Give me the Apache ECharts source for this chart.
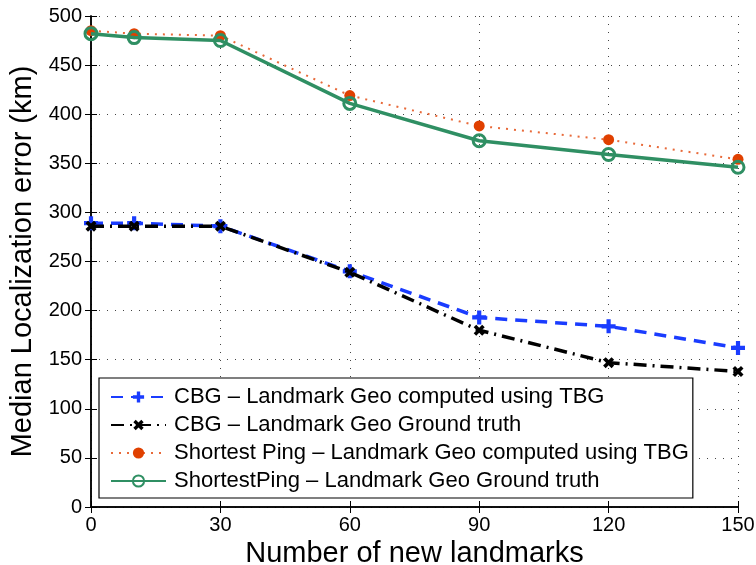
<!DOCTYPE html>
<html>
<head>
<meta charset="utf-8">
<script src="https://cdn.jsdelivr.net/npm/echarts@6/dist/echarts.min.js"></script>
<style>
html,body{margin:0;padding:0;background:#fff;}
#chart{width:756px;height:565px;}
</style>
</head>
<body>
<div id="chart"></div>
<script>
// x positions (number of new landmarks)
var landmarks = [0, 10, 30, 60, 90, 120, 150];
var cbgTbg = [289, 289, 286, 240, 193, 184, 162];
var cbgTruth = [286, 286, 286, 239, 180, 147, 138];
var spTbg = [485, 482, 480, 419, 388, 374, 354];
var spTruth = [482, 478, 475, 411, 373, 359, 346];
var names = [
  'CBG \u2013 Landmark Geo computed using TBG',
  'CBG \u2013 Landmark Geo Ground truth',
  'Shortest Ping \u2013 Landmark Geo computed using TBG',
  'ShortestPing \u2013 Landmark Geo Ground truth'
];

function pairs(ys){
  var out = [];
  for (var i = 0; i < landmarks.length; i++) out.push([landmarks[i], ys[i]]);
  return out;
}

var plusPath = 'path://M3.5,0H6.5V3.5H10V6.5H6.5V10H3.5V6.5H0V3.5H3.5Z';
var font = 'Liberation Sans, Arial, Helvetica, sans-serif';

var chart = echarts.init(document.getElementById('chart'));
var gridLine = {show: true, lineStyle: {color: '#444', type: [1, 7], width: 1}};
chart.setOption({
  animation: false,
  grid: {left: 91, right: 18, top: 16, bottom: 58, containLabel: false, outerBoundsMode: 'none'},
  legend: {
    orient: 'vertical',
    left: 99, top: 378,
    padding: [8, 4, 6, 11],
    itemGap: 6,
    itemWidth: 55, itemHeight: 14,
    backgroundColor: '#fff',
    borderColor: '#000', borderWidth: 1.2,
    borderRadius: 0,
    textStyle: {fontFamily: font, fontSize: 22, color: '#000', padding: [0, 0, 0, 3]},
    data: names
  },
  xAxis: [{
    type: 'value', min: 0, max: 150, interval: 30,
    name: 'Number of new landmarks', nameLocation: 'middle', nameGap: 29,
    nameTextStyle: {fontFamily: font, fontSize: 29, color: '#000', verticalAlign: 'top'},
    axisLine: {lineStyle: {color: '#000', width: 1.5}},
    axisTick: {inside: true, length: 6, lineStyle: {color: '#000'}},
    axisLabel: {fontFamily: font, fontSize: 20, color: '#000', margin: 8},
    splitLine: gridLine
  }, {
    type: 'value', min: 0, max: 150, interval: 30, position: 'top',
    axisLine: {show: true, lineStyle: {color: '#000', width: 1.5}},
    axisTick: {show: true, inside: true, length: 6, lineStyle: {color: '#000'}},
    axisLabel: {show: false}, splitLine: {show: false}
  }],
  yAxis: [{
    type: 'value', min: 0, max: 500, interval: 50,
    name: 'Median Localization error (km)', nameLocation: 'middle', nameGap: 52,
    nameTextStyle: {fontFamily: font, fontSize: 29, color: '#000'},
    axisLine: {show: true, lineStyle: {color: '#000', width: 1.5}},
    axisTick: {show: true, inside: true, length: 6, lineStyle: {color: '#000'}},
    axisLabel: {fontFamily: font, fontSize: 20, color: '#000', margin: 9},
    splitLine: gridLine
  }, {
    type: 'value', min: 0, max: 500, interval: 50, position: 'right',
    axisLine: {show: true, lineStyle: {color: '#000', width: 1.5}},
    axisTick: {show: true, inside: true, length: 6, lineStyle: {color: '#000'}},
    axisLabel: {show: false}, splitLine: {show: false}
  }],
  series: [{
    name: names[0], type: 'line', data: pairs(cbgTbg),
    symbol: plusPath, symbolSize: 14,
    itemStyle: {color: '#1a3cff'},
    lineStyle: {color: '#1a3cff', width: 3.5, type: [12, 8]},
    z: 3
  }, {
    name: names[1], type: 'line', data: pairs(cbgTruth),
    symbol: plusPath, symbolSize: 12, symbolRotate: 45,
    itemStyle: {color: '#000'},
    lineStyle: {color: '#000', width: 3.5, type: [13, 6, 2, 6]},
    z: 4
  }, {
    name: names[2], type: 'line', data: pairs(spTbg),
    symbol: 'circle', symbolSize: 11,
    itemStyle: {color: '#e04000'},
    lineStyle: {color: '#e86a3a', width: 2, type: [2, 6]},
    z: 3
  }, {
    name: names[3], type: 'line', data: pairs(spTruth),
    symbol: 'circle', symbolSize: 12,
    itemStyle: {color: 'rgba(0,0,0,0)', borderColor: '#2f8f63', borderWidth: 3},
    lineStyle: {color: '#2f8f63', width: 3.5},
    z: 4
  }]
});
</script>
</body>
</html>
